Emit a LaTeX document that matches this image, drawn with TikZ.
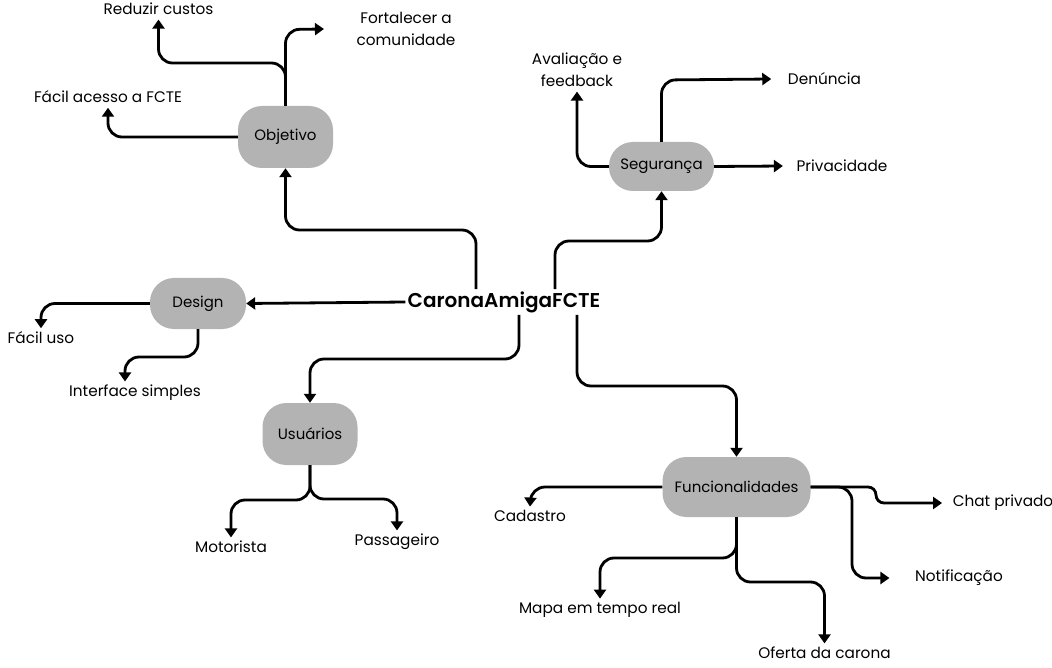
\documentclass[tikz,border=0pt]{standalone}
\usepackage{fontspec}
\setmainfont{Poppins}
\newfontfamily\semib{Poppins SemiBold}
\usetikzlibrary{arrows.meta,calc}
\definecolor{pillgray}{HTML}{B3B3B3}
\begin{document}
\begin{tikzpicture}[x=1pt,y=-1pt,
  pill/.style={fill=pillgray,rounded corners=24pt,font=\fontsize{15}{18}\selectfont,inner sep=0pt},
  lab/.style={font=\fontsize{15.3}{22}\selectfont,inner sep=1.5pt,align=center},
  conn/.style={line width=2.8pt,rounded corners=14pt,-{Triangle[length=9pt,width=12pt]}}]
\fill[white] (0,0) rectangle (1052,668);
\path[use as bounding box] (0,0) rectangle (1052,668);
% main nodes
\node[font=\semib\fontsize{20}{24}\selectfont,inner sep=2pt] (root) at (504,302) {CaronaAmigaFCTE};
\node[pill,minimum width=95pt,minimum height=62pt] (obj) at (285.5,137) {Objetivo};
\node[pill,minimum width=105pt,minimum height=49pt] (seg) at (661.5,166.5) {Segurança};
\node[pill,minimum width=96pt,minimum height=51pt] (design) at (198,303.5) {Design};
\node[pill,minimum width=95pt,minimum height=62pt] (usu) at (310,434) {Usuários};
\node[pill,minimum width=148pt,minimum height=60pt] (func) at (736.5,487) {Funcionalidades};
% labels
\node[lab] (red) at (158.5,9) {Reduzir custos};
\node[lab] (fort) at (406,29) {Fortalecer a\\comunidade};
\node[lab] (facil) at (108,97) {Fácil acesso a FCTE};
\node[lab] (aval) at (577,70) {Avaliação e\\feedback};
\node[lab] (den) at (824.5,79) {Denúncia};
\node[lab] (priv) at (842,166) {Privacidade};
\node[lab] (fuso) at (41,338) {Fácil uso};
\node[lab] (inter) at (135,393) {Interface simples};
\node[lab] (mot) at (231,547) {Motorista};
\node[lab] (pas) at (397,542) {Passageiro};
\node[lab] (cad) at (530,516) {Cadastro};
\node[lab] (chat) at (1003,503) {Chat privado};
\node[lab] (notif) at (959,578) {Notificação};
\node[lab] (mapa) at (600,610) {Mapa em tempo real};
\node[lab] (oferta) at (824.5,653) {Oferta da carona};
% root connectors
\draw[conn] ([xshift=-28pt]root.north) -- (476,230) -- (285.5,230) -- (obj.south);
\draw[conn] ([xshift=51pt]root.north) -- (555,241) -- (661.5,241) -- (seg.south);
\draw[conn] (root.west) -- (design.east);
\draw[conn] ([xshift=15pt]root.south) -- (519,359) -- (310,359) -- (usu.north);
\draw[conn] ([xshift=73pt]root.south) -- (577,386) -- (736.5,386) -- (func.north);
% Objetivo
\draw[conn] (obj.north) -- (285.5,63) -- (158.5,63) -- ([yshift=-3pt]red.south);
\draw[conn] (obj.north) -- (285.5,29.5) -- ([xshift=-31pt]fort.west);
\draw[conn] (obj.west) -- (108,137) -- ([yshift=-3pt]facil.south);
% Seguranca
\draw[conn] (seg.west) -- (577,166.5) -- ([yshift=-3pt]aval.south);
\draw[conn] (seg.north) -- (661.5,80) -- ([xshift=-15pt]den.west);
\draw[conn] (seg.east) -- ([xshift=-12pt]priv.west);
% Design
\draw[conn] (design.west) -- (41,303.5) -- ([yshift=2pt]fuso.north);
\draw[conn] (design.south) -- (198,357) -- (125,357) -- ([xshift=-10pt,yshift=2pt]inter.north);
% Usuarios
\draw[conn] (usu.south) -- (310,500) -- (231,500) -- ([yshift=2pt]mot.north);
\draw[conn] (usu.south) -- (310,499) -- (397,499) -- ([yshift=2pt]pas.north);
% Funcionalidades
\draw[conn] (func.west) -- (531,487) -- ([yshift=2pt]cad.north);
\draw[conn,rounded corners=8pt] (func.east) -- (876,487) -- (876,503) -- ([xshift=-9pt]chat.west);
\draw[conn] (func.east) -- (852,487) -- (852,578) -- ([xshift=-24pt]notif.west);
\draw[conn] (func.south) -- (736.5,558) -- (600,558) -- ([yshift=2pt]mapa.north);
\draw[conn] (func.south) -- (736.5,582) -- (824.5,582) -- ([yshift=2pt]oferta.north);
\end{tikzpicture}
\end{document}
